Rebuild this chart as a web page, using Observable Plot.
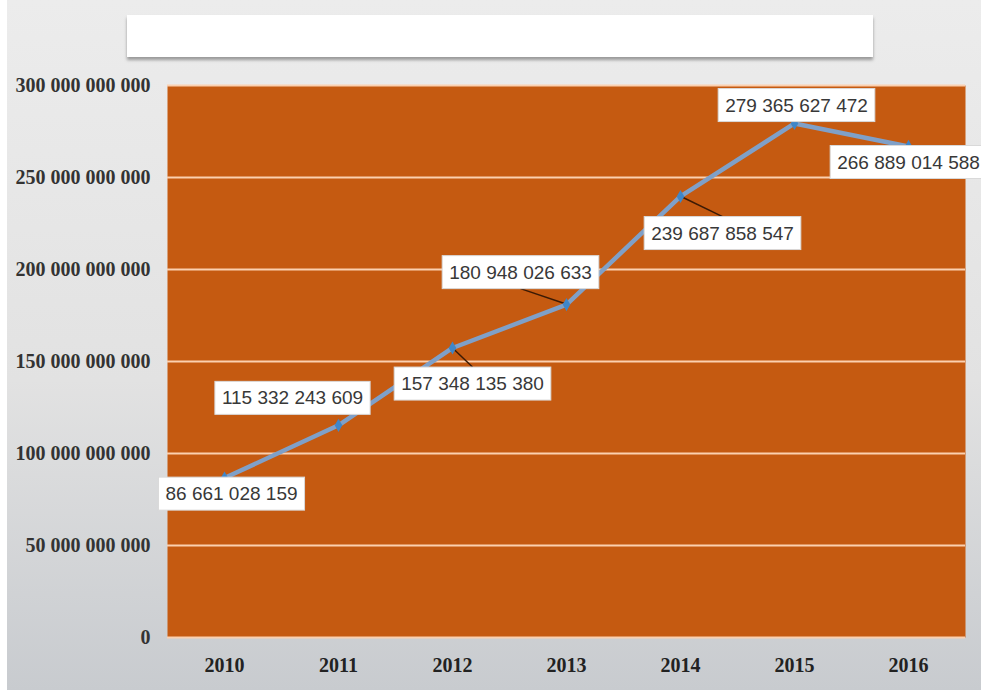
<!DOCTYPE html>
<html><head><meta charset="utf-8">
<script src="https://cdn.jsdelivr.net/npm/d3@7"></script>
<script src="https://cdn.jsdelivr.net/npm/@observablehq/plot@0.6"></script>
<style>
html,body{margin:0;padding:0;background:#fff;}
#wrap{position:relative;width:981px;height:699px;overflow:hidden;}
#bg{position:absolute;left:7px;top:0;width:974px;height:690px;background:linear-gradient(#ececec,#e2e2e2 55%,#c8cbcf);}
#titlebox{position:absolute;left:127px;top:15px;width:746px;height:42px;background:#fff;box-shadow:0 3px 3px rgba(0,0,0,0.35);}
#chart{position:absolute;left:0;top:0;}
</style></head><body>
<div id="wrap"><div id="bg"></div><div id="titlebox"></div><div id="chart"></div></div>
<script>
const years = ["2010", "2011", "2012", "2013", "2014", "2015", "2016"];
const values = [86661028159, 115332243609, 157348135380, 180948026633, 239687858547, 279365627472, 266889014588];
const yTicks = [0, 50e9, 100e9, 150e9, 200e9, 250e9, 300e9];
// label offsets (pixels) from each point
const labelDx = [7, -46, 20, -46, 42, 2, 0];
const labelDy = [16, -27, 36, -32, 37, -18, 16];
const leaderYears = ["2012", "2013", "2014"];

const data = years.map((y, i) => ({year: y, value: values[i]}));
const fmt = v => d3.format(",")(v).replace(/,/g, " ");

const labelMarks = data.map((d, i) => Plot.text([d], {
  x: "year", y: "value", text: dd => fmt(dd.value),
  dx: labelDx[i], dy: labelDy[i],
  fontFamily: "'Liberation Sans', Arial, sans-serif",
  fontSize: 19, fontWeight: "normal", fill: "#383838",
  textAnchor: "middle", lineAnchor: "middle"
}));

const chart = Plot.plot({
  width: 981, height: 699,
  marginLeft: 167, marginRight: 16, marginTop: 85, marginBottom: 62,
  style: {background: "transparent", fontFamily: "'Liberation Serif', serif", fontWeight: "bold", fontSize: "20px", color: "#333"},
  x: {type: "point", domain: years, padding: 0.5},
  y: {domain: [0, 300e9]},
  marks: [
    Plot.frame({fill: "#c55a11", stroke: null}),
    Plot.ruleY(yTicks, {stroke: "#fbd0b0", strokeWidth: 2}),
    Plot.axisY(yTicks, {tickFormat: fmt, tickSize: 0, tickPadding: 17, label: null, fontSize: 20, fontWeight: "bold", fill: "#333"}),
    Plot.axisX({tickSize: 0, tickPadding: 20, label: null, fontSize: 20, fontWeight: "bold", fill: "#222"}),
    Plot.line(data, {x: "year", y: "value", stroke: "#7fa0c8", strokeWidth: 4.5}),
    Plot.dot(data, {x: "year", y: "value", symbol: "diamond", r: 4, fill: "#3f86c8"}),
    ...labelMarks
  ]
});
document.getElementById("chart").append(chart);

// white boxes behind data labels and leader lines
const xs = chart.scale("x"), ys = chart.scale("y");
const svgBox = chart.getBoundingClientRect();
const labelGroups = chart.querySelectorAll('g[aria-label="text"]');
const layer = d3.create("svg:g").attr("class", "label-boxes");
chart.insertBefore(layer.node(), labelGroups[0]);
const lineLayer = d3.create("svg:g").attr("class", "leaders");
chart.insertBefore(lineLayer.node(), chart.querySelector('g[aria-label="line"]'));
labelGroups.forEach((g, i) => {
  const t = g.querySelector("text");
  const r = t.getBoundingClientRect();
  const x = r.left - svgBox.left, y = r.top - svgBox.top;
  const bx = x - 7, by = y - 6, bw = r.width + 14, bh = r.height + 12;
  layer.append("rect").attr("x", bx).attr("y", by).attr("width", bw).attr("height", bh)
    .attr("fill", "#fff").attr("stroke", "#d9d9d9").attr("stroke-width", 1);
  const d = data[i];
  if (leaderYears.includes(d.year)) {
    const px = xs.apply(d.year), py = ys.apply(d.value);
    const cx = bx + bw / 2;
    const ey = py < by ? by : by + bh;
    lineLayer.append("line").attr("x1", px).attr("y1", py).attr("x2", cx).attr("y2", ey)
      .attr("stroke", "#3b1a05").attr("stroke-width", 1.5);
  }
});
</script>
</body></html>
